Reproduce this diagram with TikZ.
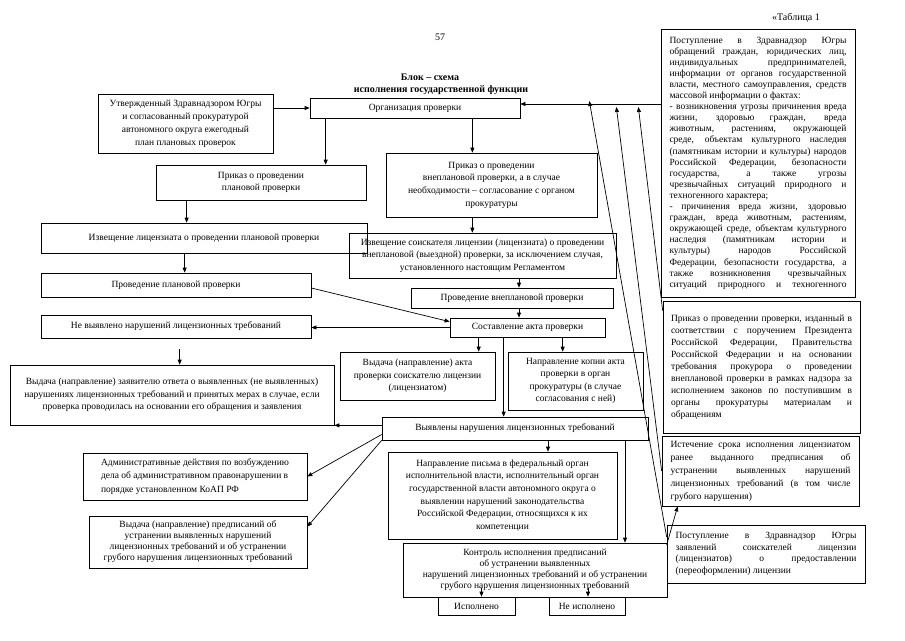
\documentclass[tikz,border=0pt]{standalone}
\usepackage{fontspec}
\setmainfont{Liberation Serif}
\usetikzlibrary{arrows.meta}
\newlength\jw
\newcommand\jl[1]{\makebox[\jw][s]{#1}}
\begin{document}
\begin{tikzpicture}[x=1pt,y=-1pt,
  bx/.style={draw, line width=0.7pt, inner sep=1pt, align=center, font=\fontsize{9.5}{12.5}\selectfont},
  rb/.style={bx, align=left},
  arr/.style={-{Triangle[length=5pt,width=4pt]}, line width=0.7pt},
  lbl/.style={inner sep=0pt, font=\fontsize{10}{12}\selectfont}]
\useasboundingbox (0,0) rectangle (905,640);
\fill[white] (0,0) rectangle (905,640);

% header texts
\node[lbl] (page) at (440,37) {57};
\node[lbl] (tab) at (796,18) {«Таблица 1};
\node[lbl, font=\fontsize{10}{12}\selectfont\bfseries] (t1l) at (430,77) {Блок – схема};
\node[lbl, font=\fontsize{10}{12}\selectfont\bfseries] (t2l) at (441,90) {исполнения государственной функции};

% left / centre column
\node[bx, minimum width=175pt, minimum height=59pt, font=\fontsize{9.5}{13}\selectfont] (plan) at (185.5,123.5)
  {Утвержденный Здравнадзором Югры\\ и согласованный прокуратурой\\ автономного округа ежегодный\\ план плановых проверок};
\node[bx, minimum width=210pt, minimum height=20pt] (org) at (415,108) {Организация проверки};
\node[bx, minimum width=210pt, minimum height=35pt] (prikPlan) at (261,182.5) {Приказ о проведении\\ плановой проверки};
\node[bx, minimum width=326pt, minimum height=30pt] (izvPlan) at (204,238) {Извещение лицензиата о проведении плановой проверки};
\node[bx, minimum width=270pt, minimum height=24pt] (provPlan) at (176,285) {Проведение плановой проверки};
\node[bx, minimum width=270pt, minimum height=23pt] (neVyav) at (176,326.5) {Не выявлено нарушений лицензионных требований};
\node[bx, minimum width=324pt, minimum height=60pt] (vydZayav) at (172,395)
  {Выдача (направление) заявителю ответа о выявленных (не выявленных)\\ нарушениях лицензионных требований и принятых мерах в случае, если\\ проверка проводилась на основании его обращения и заявления};
\node[rb, minimum width=224pt, minimum height=47pt, font=\fontsize{9.5}{13.5}\selectfont] (adm) at (195,476.5)
  {Административные действия по возбуждению\\ дела об административном правонарушении в\\ порядке установленном КоАП РФ};
\node[bx, minimum width=218pt, minimum height=52pt, font=\fontsize{9.5}{11}\selectfont] (predp) at (198,542)
  {Выдача (направление) предписаний об\\ устранении выявленных нарушений\\ лицензионных требований и об устранении\\ грубого нарушения лицензионных требований};

\node[bx, minimum width=211pt, minimum height=64pt, font=\fontsize{9.5}{12.7}\selectfont] (prikVnepl) at (491.5,185)
  {Приказ о проведении\\ внеплановой проверки, а в случае\\ необходимости – согласование с органом\\ прокуратуры};
\node[bx, minimum width=267pt, minimum height=45pt] (izvSoisk) at (482.5,255.5)
  {Извещение соискателя лицензии (лицензиата) о проведении\\ внеплановой (выездной) проверки, за исключением случая,\\ установленного настоящим Регламентом};
\node[bx, minimum width=202pt, minimum height=20pt] (provVnepl) at (512,298) {Проведение внеплановой проверки};
\node[bx, minimum width=155pt, minimum height=19pt] (akt) at (527.5,327.5) {Составление акта проверки};
\node[bx, minimum width=155pt, minimum height=48pt] (vydAkt) at (417.5,376)
  {Выдача (направление) акта\\ проверки соискателю лицензии\\ (лицензиатом)};
\node[bx, minimum width=135pt, minimum height=58pt] (kopia) at (575.5,381)
  {Направление копии акта\\ проверки в орган\\ прокуратуры (в случае\\ согласования с ней)};
\node[bx, minimum width=266pt, minimum height=23pt] (vyav) at (515,428.5) {Выявлены нарушения лицензионных требований};
\node[bx, minimum width=229pt, minimum height=87pt, font=\fontsize{9.5}{12.6}\selectfont] (pismo) at (502.5,495.5)
  {Направление письма в федеральный орган\\ исполнительной власти, исполнительный орган\\ государственной власти автономного округа о\\ выявлении нарушений законодательства\\ Российской Федерации, относящихся к их\\ компетенции};
\node[bx, minimum width=264pt, minimum height=54pt, font=\fontsize{9.5}{11}\selectfont] (kontrol) at (535,570)
  {Контроль исполнения предписаний\\ об устранении выявленных\\ нарушений лицензионных требований и об устранении\\ грубого нарушения лицензионных требований};
\node[bx, minimum width=77pt, minimum height=18pt] (ispoln) at (476.5,606) {Исполнено};
\node[bx, minimum width=76pt, minimum height=18pt] (neIspoln) at (587,606) {Не исполнено};

% right column
\setlength\jw{177pt}
\node[rb, minimum width=194pt, minimum height=268pt, font=\fontsize{9.5}{11.1}\selectfont] (obr) at (758,163)
  {\jl{Поступление в Здравнадзор Югры}\\
   \jl{обращений граждан, юридических лиц,}\\
   \jl{индивидуальных предпринимателей,}\\
   \jl{информации от органов государственной}\\
   \jl{власти, местного самоуправления, средств}\\
   массовой информации о фактах:\\
   \jl{- возникновения угрозы причинения вреда}\\
   \jl{жизни, здоровью граждан, вреда}\\
   \jl{животным, растениям, окружающей}\\
   \jl{среде, объектам культурного наследия}\\
   \jl{(памятникам истории и культуры) народов}\\
   \jl{Российской Федерации, безопасности}\\
   \jl{государства, а также угрозы}\\
   \jl{чрезвычайных ситуаций природного и}\\
   техногенного характера;\\
   \jl{- причинения вреда жизни, здоровью}\\
   \jl{граждан, вреда животным, растениям,}\\
   \jl{окружающей среде, объектам культурного}\\
   \jl{наследия (памятникам истории и}\\
   \jl{культуры) народов Российской}\\
   \jl{Федерации, безопасности государства, а}\\
   \jl{также возникновения чрезвычайных}\\
   \jl{ситуаций природного и техногенного}};
\setlength\jw{181pt}
\node[rb, minimum width=197pt, minimum height=132pt, font=\fontsize{9.5}{12}\selectfont] (prikPrez) at (761.5,367)
  {\jl{Приказ о проведении проверки, изданный в}\\
   \jl{соответствии с поручением Президента}\\
   \jl{Российской Федерации, Правительства}\\
   \jl{Российской Федерации и на основании}\\
   \jl{требования прокурора о проведении}\\
   \jl{внеплановой проверки в рамках надзора за}\\
   \jl{исполнением законов по поступившим в}\\
   \jl{органы прокуратуры материалам и}\\
   обращениям};
\setlength\jw{180pt}
\node[rb, minimum width=197pt, minimum height=70pt, font=\fontsize{9.5}{13}\selectfont] (isteh) at (760.5,471)
  {\jl{Истечение срока исполнения лицензиатом}\\
   \jl{ранее выданного предписания об}\\
   \jl{устранении выявленных нарушений}\\
   \jl{лицензионных требований (в том числе}\\
   грубого нарушения)};
\setlength\jw{181pt}
\node[rb, minimum width=198pt, minimum height=58pt, font=\fontsize{9.5}{11.7}\selectfont] (postZ) at (766,554)
  {\jl{Поступление в Здравнадзор Югры}\\
   \jl{заявлений соискателей лицензии}\\
   \jl{(лицензиатов) о предоставлении}\\
   (переоформлении) лицензии};

% connectors
\draw[arr] (plan.east |- org.west) -- (org.west);
\draw[arr] ([xshift=16pt]org.south west) coordinate (a1) -- (a1 |- prikPlan.north);
\draw[arr] ([xshift=-48pt]org.south east) coordinate (a2) -- (a2 |- prikVnepl.north);
\draw[arr] ([xshift=31pt]prikPlan.south west) coordinate (a3) -- (a3 |- izvPlan.north);
\draw[arr] ([xshift=144pt]izvPlan.south west) coordinate (a4) -- (a4 |- provPlan.north);
\draw[arr] ([yshift=-3pt]provPlan.east) -- ([yshift=-4pt]akt.north west);
\draw[arr] (akt.west) -- (akt.west -| neVyav.east);
\coordinate (a5) at ([xshift=139pt,yshift=-11pt]neVyav.south west);
\draw[arr] (a5) -- (a5 |- vydZayav.north);
\draw[arr] (a2 |- prikVnepl.south) -- (a2 |- izvSoisk.north);
\coordinate (a6) at ([xshift=7pt]provVnepl.north);
\draw[arr] (a6 |- izvSoisk.south) -- (a6);
\draw[arr] (a6 |- provVnepl.south) -- (a6 |- akt.north);
\draw[arr] ([xshift=29pt]akt.south west) coordinate (a7) -- (a7 |- vydAkt.north);
\draw[arr] ([xshift=113pt]akt.south west) coordinate (a8) -- (a8 |- kopia.north);
\draw[arr] ([xshift=54pt]akt.south west) coordinate (a9) -- (a9 |- vyav.north);
\draw[arr] (vydZayav.south east -| vyav.west) -- (vydZayav.south east);
\draw[arr] ([yshift=-6pt]vyav.west) -- (adm.east);
\draw[arr] (vyav.south west) -- ([yshift=-11pt]predp.north east);
\draw[arr] ([xshift=33pt]vyav.south) coordinate (b1) -- (b1 |- pismo.north);
\draw[arr] ([xshift=110pt]vyav.south) coordinate (b2) -- (b2 |- kontrol.north);
\draw[arr] ([xshift=5pt,yshift=9pt]ispoln.north) -- ([xshift=5pt]ispoln.north);
\draw[arr] ([xshift=1pt,yshift=9pt]neIspoln.north) -- ([xshift=1pt]neIspoln.north);
\coordinate (h) at ([yshift=4pt]org.east);
\draw[arr] (h -| obr.west) -- (h);
\coordinate (t1) at ([xshift=69pt,yshift=3pt]h);
\coordinate (t2) at ([xshift=96pt,yshift=-3pt]h);
\coordinate (t3) at ([xshift=118pt,yshift=-3pt]h);
\draw[arr] ([yshift=17pt]postZ.west) -- (t1);
\draw[arr] (isteh.west) -- (t2);
\draw[arr] ([yshift=-10pt]prikPrez.north west) -- (t3);
\draw[arr] ([yshift=9pt]postZ.west) -- ([xshift=16pt]isteh.south west);
\end{tikzpicture}
\end{document}
